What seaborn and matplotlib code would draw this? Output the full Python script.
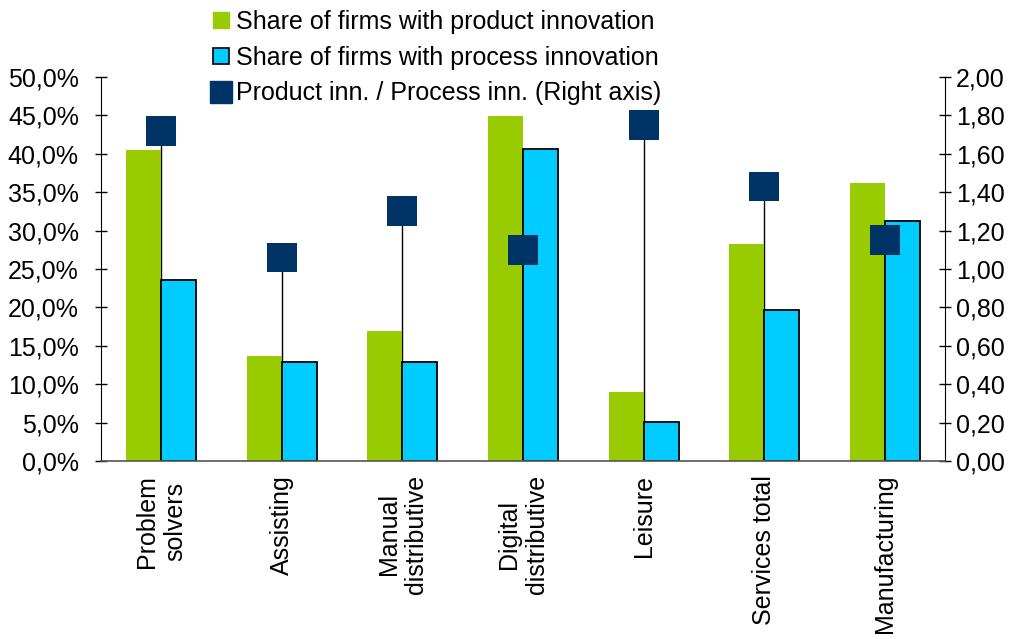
import numpy as np
import pandas as pd
import matplotlib
matplotlib.use("Agg")
import matplotlib.pyplot as plt
from matplotlib.lines import Line2D
from matplotlib.ticker import FuncFormatter
import seaborn as sns

categories = ["Problem\nsolvers", "Assisting", "Manual\ndistributive", "Digital\ndistributive",
              "Leisure", "Services total", "Manufacturing"]
product_share = [40.5, 13.7, 16.9, 44.9, 9.0, 28.3, 36.2]
process_share = [23.6, 12.9, 12.9, 40.6, 5.1, 19.6, 31.3]
ratio = [1.72, 1.06, 1.30, 1.10, 1.75, 1.43, 1.15]

series_names = ["Share of firms with product innovation",
                "Share of firms with process innovation",
                "Product inn. / Process inn. (Right axis)"]

green = "#99CC00"
cyan = "#00CCFF"
navy = "#003366"

sns.set_style("white")
plt.rcParams["font.family"] = ["Liberation Sans", "DejaVu Sans"]
plt.rcParams["font.size"] = 18
plt.rcParams["text.color"] = "black"
plt.rcParams["xtick.color"] = "black"
plt.rcParams["ytick.color"] = "black"
plt.rcParams["axes.labelcolor"] = "black"

df = pd.DataFrame({
    "category": categories * 2,
    "value": product_share + process_share,
    "series": [series_names[0]] * len(categories) + [series_names[1]] * len(categories),
})

fig = plt.figure(figsize=(10.2, 6.39), dpi=100)
ax = fig.add_axes([0.099, 0.2786, 0.8275, 0.6009])
ax2 = ax.twinx()  # right axis + drop lines (behind bars)
ax.set_zorder(ax2.get_zorder() + 1)
ax.patch.set_visible(False)
ax3 = ax.twinx()  # markers (on top)
ax3.set_zorder(ax.get_zorder() + 1)
ax3.patch.set_visible(False)

sns.barplot(data=df, x="category", y="value", hue="series", order=categories,
            hue_order=series_names[:2], palette=[green, cyan], width=0.58,
            saturation=1, legend=False, ax=ax, zorder=2)
for cont, ec, lw in zip(ax.containers, [green, "black"], [0, 1.3]):
    for p in cont.patches:
        p.set_edgecolor(ec)
        p.set_linewidth(lw)

x = np.arange(len(categories))
ax.set_xlim(-0.5, len(categories) - 0.5)
ax.set_ylim(0, 50)
ax.set_yticks(np.arange(0, 50.1, 5))
ax.yaxis.set_major_formatter(FuncFormatter(lambda v, p: f"{v:.1f}%".replace(".", ",")))
ax.set_xlabel("")
ax.set_ylabel("")
ax.set_xticks(x)
ax.set_xticklabels(categories, rotation=90, va="top", ha="center", multialignment="center")
ax.set_xticks(np.arange(-0.5, len(categories) - 0.4, 1), minor=True)
ax.tick_params(axis="x", which="major", length=0, pad=10, labelcolor="black")
ax.tick_params(axis="x", which="minor", length=8, width=1, color="black", direction="out")
ax.tick_params(axis="y", which="major", length=8, width=1, direction="inout", color="black",
               pad=12, labelcolor="black")
for s in ["top", "right"]:
    ax.spines[s].set_visible(False)
ax.spines["left"].set_color("black")
ax.spines["bottom"].set_color("#555555")
ax.spines["bottom"].set_linewidth(1.2)

ax2.set_ylim(0, 2)
ax2.set_yticks(np.arange(0, 2.01, 0.2))
ax2.yaxis.set_major_formatter(FuncFormatter(lambda v, p: f"{v:.2f}".replace(".", ",")))
ax2.tick_params(axis="y", length=8, width=1, direction="inout", color="black", pad=4,
                labelcolor="black")
for s in ["top", "left", "bottom"]:
    ax2.spines[s].set_visible(False)
ax2.spines["right"].set_color("black")
ax2.vlines(x, 0, ratio, color="black", linewidth=1)

ax3.set_ylim(0, 2)
sns.scatterplot(x=x, y=ratio, marker="s", s=21.5 ** 2, color=navy, edgecolor="none",
                ax=ax3, legend=False, zorder=5)
ax3.set_yticks([])
for s in ax3.spines.values():
    s.set_visible(False)
ax3.set_xlim(-0.5, len(categories) - 0.5)

handles = [
    Line2D([], [], marker="s", linestyle="none", markersize=11.5, markerfacecolor=green,
           markeredgecolor=green),
    Line2D([], [], marker="s", linestyle="none", markersize=11, markerfacecolor=cyan,
           markeredgecolor="black", markeredgewidth=1.2),
    Line2D([], [], marker="s", linestyle="none", markersize=16.5, markerfacecolor=navy,
           markeredgecolor=navy),
]
fig.legend(handles, series_names, loc="upper left", bbox_to_anchor=(0.188, 1.012),
           frameon=False, fontsize=18, handlelength=0.9, handletextpad=0.15,
           labelspacing=0.47, borderpad=0.2, labelcolor="black")

fig.savefig("out.png", dpi=100)
